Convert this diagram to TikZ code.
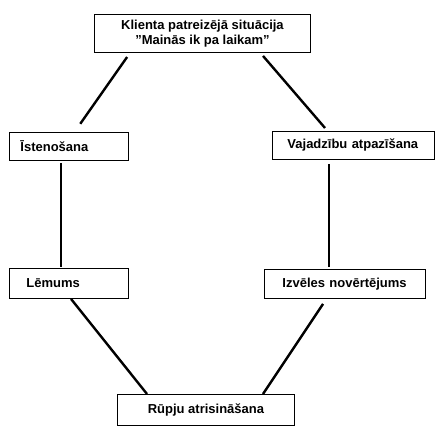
\documentclass[tikz,border=0pt]{standalone}
\usepackage{fontspec}
\setmainfont{Liberation Sans}
\usetikzlibrary{calc}
\tikzset{
	box/.style={draw, line width=0.9pt, anchor=north west, inner ysep=0pt, align=left, font=\fontsize{13}{14.5}\selectfont\bfseries},
	link/.style={line width=2.4pt},
}
\begin{document}
\begin{tikzpicture}[x=1pt,y=-1pt]
		\useasboundingbox (0,0) rectangle (441,439);
		\node[box, align=center, minimum width=216pt, minimum height=38pt] (klients) at (94,14) {Klienta patreizējā situācija\\"Mainās ik pa laikam"};
		\node[box, minimum height=28pt, inner xsep=11pt, text width=97pt] (isten) at (9,132) {Īstenošana};
		\node[box, minimum height=28pt, inner xsep=15pt, text width=132pt] (vajadz) at (272,131) {Vajadzību atpazīšana};
		\node[box, minimum height=30pt, inner xsep=17pt, text width=85pt] (lemums) at (9,268) {Lēmums};
		\node[box, minimum height=29pt, inner xsep=18pt, text width=125pt] (izvele) at (264,269) {Izvēles novērtējums};
		\node[box, align=center, minimum width=177pt, minimum height=31pt] (rupes) at (117,394) {Rūpju atrisināšana};
		% saites starp posmiem
		\draw[link, shorten <=5pt, shorten >=10pt] ([xshift=36pt]klients.south west) -- ([xshift=65.5pt]isten.north west);
		\draw[link, shorten <=4pt, shorten >=4pt] ([xshift=166.4pt]klients.south west) -- ([xshift=55.6pt]vajadz.north west);
		\draw[link, shorten <=2pt, shorten >=1pt] ([xshift=52pt]isten.south west) -- ([xshift=52pt]lemums.north west);
		\draw[link, shorten <=4pt, shorten >=2pt] ([xshift=57pt]vajadz.south west) -- ([xshift=65pt]izvele.north west);
		\draw[link] ([xshift=62pt]lemums.south west) -- ([xshift=30pt]rupes.north west);
		\draw[link, shorten <=6pt] ([xshift=62.4pt]izvele.south west) -- ([xshift=146pt]rupes.north west);
	\end{tikzpicture}
\end{document}
